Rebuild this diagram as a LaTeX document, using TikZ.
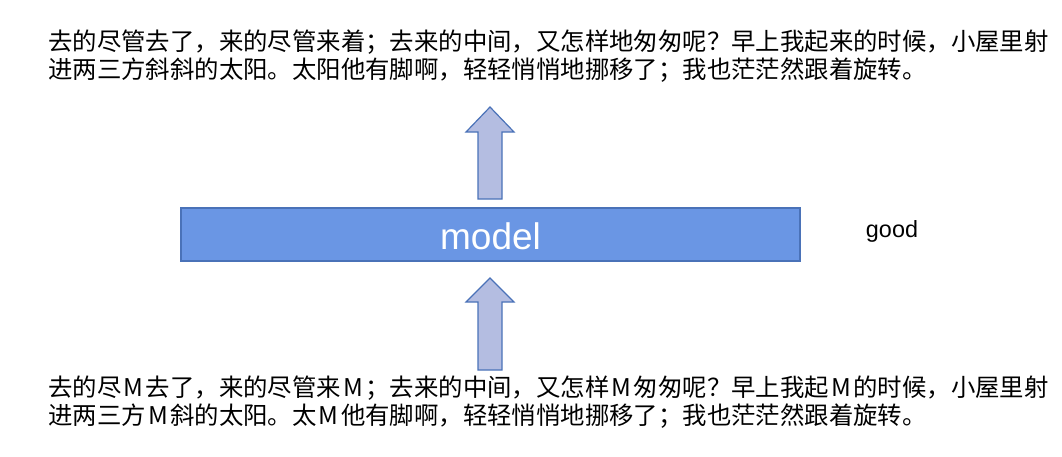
\documentclass[tikz,border=0pt]{standalone}
\usepackage{fontspec}
\setmainfont{Liberation Sans}
\newfontfamily\cjk{Noto Sans CJK SC}
\definecolor{modelblue}{HTML}{6A96E4}
\definecolor{edgeblue}{HTML}{4A72B8}
\definecolor{arrowfill}{HTML}{B4BDE1}
\newcommand{\maskM}{\makebox[1em]{M}}
\tikzset{
  para/.style={anchor=north west, align=left, inner sep=0pt, font=\cjk\fontsize{24.4}{27.5}\selectfont},
  blockarrow/.style={draw=edgeblue, fill=arrowfill, line width=1.2pt, line join=miter}
}

\begin{document}
\begin{tikzpicture}[x=1pt,y=-1pt]
\useasboundingbox (0,0) rectangle (1062,456);

% output text
\node[para] (output) at (48,30) {去的尽管去了，来的尽管来着；去来的中间，又怎样地匆匆呢？早上我起来的时候，小屋里射\\进两三方斜斜的太阳。太阳他有脚啊，轻轻悄悄地挪移了；我也茫茫然跟着旋转。};

% model
\draw[draw=edgeblue, fill=modelblue, line width=1.2pt] (181,208) rectangle (800,261);
\node[text=white, font=\fontsize{37}{40}\selectfont] (model) at (490.5,236) {model};
\node[font=\fontsize{23.4}{26}\selectfont] (good) at (892,231) {good};

% arrows
\draw[blockarrow] (478,199) -- (478,132) -- (466,132) -- (490,107) -- (514,132) -- (502,132) -- (502,199) -- cycle;
\draw[blockarrow] (478,370) -- (478,302) -- (466,302) -- (490,278) -- (514,302) -- (502,302) -- (502,370) -- cycle;

% input text
\node[para] (input) at (48,376) {去的尽\maskM 去了，来的尽管来\maskM ；去来的中间，又怎样\maskM 匆匆呢？早上我起\maskM 的时候，小屋里射\\进两三方\maskM 斜的太阳。太\maskM 他有脚啊，轻轻悄悄地挪移了；我也茫茫然跟着旋转。};
\end{tikzpicture}
\end{document}
